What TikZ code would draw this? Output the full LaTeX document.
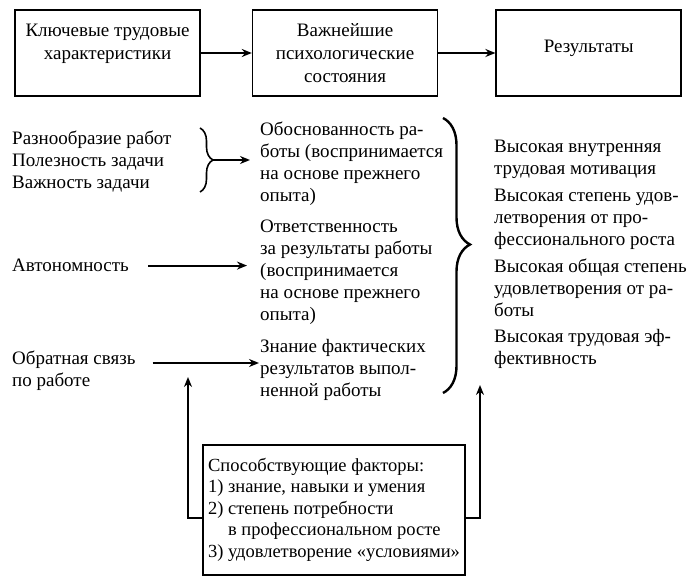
\documentclass[tikz,border=0pt]{standalone}
\usepackage{fontspec}
\setmainfont{Liberation Serif}
\usetikzlibrary{arrows.meta,decorations.pathreplacing,positioning}

\tikzstyle{hdr} = [rectangle, draw=black, line width=1.6pt, minimum width=185pt, minimum height=86pt, inner sep=0pt, align=center, font=\fontsize{19}{23}\selectfont]
\tikzstyle{txt} = [anchor=north west, inner sep=0pt, align=left, font=\fontsize{19}{22}\selectfont]
\tikzstyle{arr} = [-{Stealth[length=10pt,width=8pt]}, line width=2pt]
\tikzstyle{brc} = [decorate, line width=1.6pt]

\begin{document}
\begin{tikzpicture}[x=1pt,y=-1pt]
\useasboundingbox (0,0) rectangle (689,585);

\node[hdr, text depth=22pt] (K) at (107.5,53) {Ключевые трудовые\\характеристики};
\node[hdr] (P) [right=51pt of K] {Важнейшие\\психологические\\состояния};
\node[hdr, text depth=14pt] (R) [right=57pt of P] {Результаты};

\node[txt] (var) at (12,131) {Разнообразие работ\\Полезность задачи\\Важность задачи};
\node[txt] (auto) at (12,259) {Автономность};
\node[txt] (fb) at (12,351) {Обратная связь\\по работе};

\node[txt] (s1) at (260,122) {Обоснованность ра-\\боты (воспринимается\\на основе прежнего\\опыта)};
\node[txt] (s2) at (260,220) {Ответственность\\за результаты работы\\(воспринимается\\на основе прежнего\\опыта)};
\node[txt] (s3) at (260,339) {Знание фактических\\результатов выпол-\\ненной работы};

\node[txt] (r1) at (494,140) {Высокая внутренняя\\трудовая мотивация};
\node[txt] (r2) at (494,189) {Высокая степень удов-\\летворения от про-\\фессионального роста};
\node[txt] (r3) at (494,259) {Высокая общая степень\\удовлетворения от ра-\\боты};
\node[txt] (r4) at (494,329) {Высокая трудовая эф-\\фективность};

\node[hdr, minimum width=262pt, minimum height=130pt, font=\fontsize{18.5}{21.5}\selectfont] (fac) at (334,510) {\begin{tabular}{@{}l@{}}Способствующие факторы:\\1) знание, навыки и умения\\2) степень потребности\\\hphantom{2) }в профессиональном росте\\3) удовлетворение «условиями»\end{tabular}};

\coordinate (b1) at (213,160);
\coordinate (upL) at (188,377);
\coordinate (upR) at (480,385);

\draw[brc, decoration={brace, amplitude=13pt}] (200,128) -- (200,192);
\draw[brc, line width=2.4pt, decoration={brace, amplitude=27pt, aspect=0.46}] (443,118) -- (443,393);

\draw[arr] (K) -- (P);
\draw[arr] (P) -- (R);
\draw[arr, shorten >=10pt] (b1) -- (b1 -| s1.west);
\draw[arr, shorten <=19pt, shorten >=13pt] (auto.east) -- (auto.east -| s2.west);
\draw[arr, shorten <=17pt, shorten >=1pt] ([yshift=-12pt]fb.north east) -- ([yshift=-12pt]fb.north east -| s3.west);
\draw[arr] ([yshift=-8pt]fac.west) -| (upL);
\draw[arr] ([yshift=-8pt]fac.east) -| (upR);

\end{tikzpicture}
\end{document}
